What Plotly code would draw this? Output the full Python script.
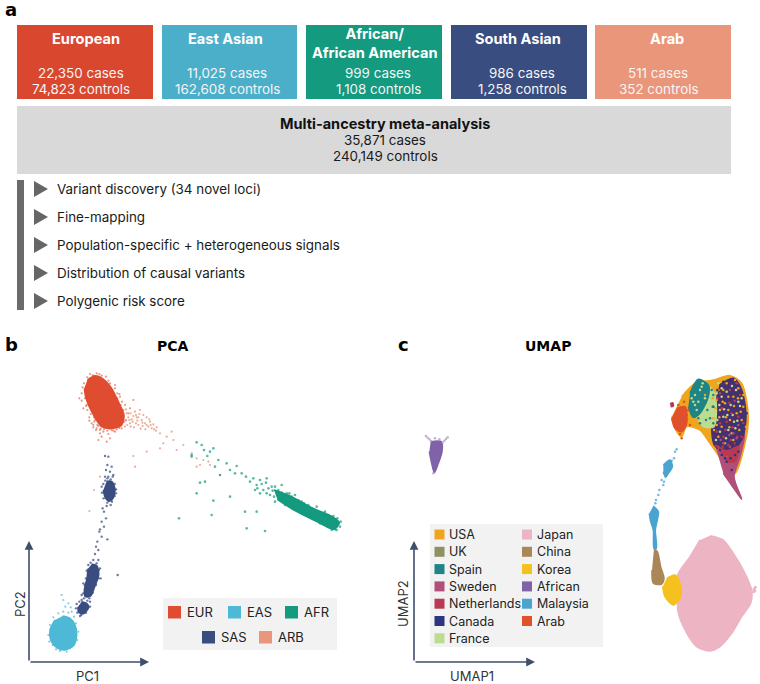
import plotly.graph_objects as go

W, H = 760, 684
FONT = "Inter"

# ---------- panel a content ----------
cohort_titles = ["European", "East Asian", "African/<br>African American", "South Asian", "Arab"]
cohort_cases = ["22,350 cases", "11,025 cases", "999 cases", "986 cases", "511 cases"]
cohort_controls = ["74,823 controls", "162,608 controls", "1,108 controls", "1,258 controls", "352 controls"]
cohort_colors = ["#d9472f", "#4bafca", "#149a7f", "#3a4d80", "#ea967b"]
box_left = [17, 162, 306, 451, 595]
box_right = [153, 297, 442, 587, 731]
title_cx = [86, 226, 375, 518, 667]
count_cx = [81, 227, 378, 522, 658]
steps = ["Variant discovery (34 novel loci)", "Fine-mapping",
         "Population-specific + heterogeneous signals",
         "Distribution of causal variants", "Polygenic risk score"]

# ---------- panel b (PCA), outlines and points ----------
EUR, EAS, AFR, SAS, ARB = "#e04c30", "#4db9d6", "#149a7f", "#3a4d80", "#ea967b"
eur_core = [(262,150),(285,137),(310,147),(335,175),(355,215),(372,255),(365,285),(340,295),(305,290),(275,245),(258,205),(253,175)]
eur_pts = [(245,212),(238,205),(250,235),(262,240),(268,262),(275,280),(290,295),(300,310),(310,305),(325,312),(335,300),(350,298),
           (295,330),(320,335),(280,285),(260,225),(245,190),(270,132),(290,130),(305,137),(325,152),(345,175),(360,200),(375,225),
           (385,250),(372,275),(365,295),(345,305),(255,180),(252,160),(400,210),(390,235),(268,150),(300,300),(285,270),(340,195),
           (352,190),(366,215),(378,270),(330,325),(305,320),(315,290),(282,262),(270,232),(292,285),(322,302),(358,192),(248,172),
           (258,228),(272,252),(283,275),(295,288),(312,298),(340,302),(358,294),(275,240),(264,215),(288,300),(302,296),(328,296),
           (280,292),(268,272),(255,205),(345,165),(330,160),(318,140),(298,132),(278,135),(262,142),(370,240),(362,225),(352,205)]
arb_pts = [(378,238),(385,262),(392,250),(398,275),(405,245),(410,262),(415,285),(420,240),(425,270),(430,255),(435,280),(440,262),
           (445,290),(450,275),(455,295),(460,283),(470,292),(390,280),(402,292),(382,285),(412,272),(422,296),(436,298),(448,268),
           (395,268),(408,255),(375,290),(418,252),(462,298),(428,288),(380,250),(388,270),(400,258),(415,262),(427,278),(440,285),
           (452,285),(392,290),(408,280),(378,272),
           (480,310),(500,320),(520,330),(480,355),(530,360),(550,345),(575,370),(590,385),(610,390),(625,395),(600,405),(630,405),
           (590,410),(400,378),(440,365),(405,410),(300,440),(282,480),(268,543),(660,435),(515,305),(490,340),(468,302)]
afr_core = [(822,480),(870,498),(940,535),(1000,562),(1018,578),(1002,598),(955,577),(885,542),(832,508)]
afr_pts = [(590,337),(605,345),(575,380),(612,360),(630,365),(640,355),(622,378),(655,390),(680,400),(710,408),(690,420),(725,430),
           (738,440),(705,430),(750,455),(770,465),(590,490),(600,458),(640,512),(635,555),(537,565),(740,595),(795,603),(735,545),
           (770,545),(660,435),(645,410),(615,455),(690,500),(575,375),(760,445),(780,450),(800,445),(815,470),(790,480),(845,465),
           (868,490),(890,515),(912,520),(930,555),(950,530),(975,545),(985,588),(1010,600),(985,570),(960,580),(900,545),(855,525),(825,515),
           (772,475),(785,462),(798,458),(805,475),(818,482),(825,470),(835,480),(845,488),(810,495),(822,500),(838,510),(850,515),
           (860,490),(875,500),(885,495),(895,510),(905,515),(915,530),(925,525),(935,535),(945,540),(955,548),(965,552),(975,560),
           (985,555),(1000,558),(1012,565),(1022,575),(1020,590),(1005,598),(995,600),(980,585),(970,572),(945,565),(925,558),(910,550),
           (890,538),(875,530),(860,520),(845,510),(800,490),(765,480),(780,490)]
sas_blob1 = [(320,454),(335,454),(345,478),(339,505),(328,514),(316,503),(310,480)]
sas_blob2 = [(275,703),(291,708),(296,735),(284,770),(272,798),(256,800),(253,780),(261,745),(264,716)]
sas_blob3 = [(245,815),(260,820),(266,832),(250,851),(236,847),(234,830)]
sas_pts = [(315,378),(325,380),(322,405),(318,420),(330,425),(340,435),(315,440),(305,470),(348,490),(320,528),(332,525),(312,545),
           (318,565),(305,575),(312,590),(298,605),(305,620),(292,635),(288,650),(295,660),(285,672),(280,690),(295,690),(300,715),
           (353,735),(245,795),(238,815),(270,815),(228,835),(240,858),(302,745),(250,760),(308,535),(325,440),(335,410),(300,598),(322,628),
           (316,452),(332,448),(344,462),(348,478),(344,498),(336,515),(322,518),(311,505),(306,488),(310,462),(322,445),(338,440),
           (272,698),(290,700),(297,720),(296,745),(288,765),(278,788),(268,805),(252,805),(250,790),(254,765),(258,745),(260,722),
           (265,705),(245,810),(262,812),(270,830),(258,848),(244,855),(232,848),(230,822)]
eas_core = [(188,858),(210,865),(225,885),(230,912),(222,945),(195,960),(170,953),(152,930),(150,900),(165,870)]
eas_pts = [(185,795),(190,810),(205,820),(212,832),(196,830),(215,845),(205,848),(190,845),(175,850),(145,915),(148,935),(235,905),(200,965),(180,963),
           (228,880),(232,930),(158,945),(150,885),(160,862),(222,860),(168,958),(210,955)]

# ---------- panel c (UMAP), outlines and points ----------
USA, UKC, SPA, SWE, NET, CAN, FRA = "#f0a51e", "#8f9160", "#1f8484", "#b04f78", "#b93a50", "#2d3580", "#bcdc90"
JAP, CHI, KOR, AFN, MAL, ARA = "#edb4c4", "#ab8758", "#f4c11f", "#7f62a8", "#4ba3d2", "#e0502c"
CAN_MIX = "#46306f"
japan_shape = [(990,617),(1030,630),(1060,670),(1090,720),(1115,780),(1112,820),(1085,860),(1055,910),(1020,950),(990,963),(950,950),(915,900),(893,840),(897,770),(893,735),(930,680),(960,630)]
china_shape = [(822,655),(832,665),(842,710),(852,745),(845,762),(820,760),(816,720)]
korea_shape = [(860,745),(885,735),(900,760),(902,800),(880,825),(855,800),(848,770)]
mal_low = [(820,528),(835,545),(832,570),(826,600),(829,655),(822,655),(820,600),(812,575),(808,550)]
mal_up = [(850,405),(870,390),(877,410),(865,430),(857,442),(850,425)]
mal_pts = [(885,365),(882,385),(875,392),(845,450),(850,465),(838,480),(835,495),(828,510),(826,520),(852,455),(890,358)]
african_shape = [(152,335),(184,335),(186,365),(175,400),(163,428),(155,400),(148,365)]
african_pts = [(138,318),(143,323),(148,328),(153,333),(203,322),(198,327),(193,332),(188,338),(165,325),(178,328),(160,430)]
usa_shape = [(905,200),(945,160),(1000,150),(1050,137),(1085,160),(1105,260),(1095,340),(1065,430),(1040,410),(990,340),(960,300),(920,290),(905,320),(885,295),(875,260)]
swe_shape = [(1005,345),(1045,330),(1092,310),(1080,380),(1062,440),(1085,508),(1065,480),(1030,430)]
can_shape = [(1018,165),(1060,145),(1085,180),(1098,260),(1085,330),(1045,370),(1003,345),(995,250)]
net_shape = [(1005,345),(1040,362),(1075,350),(1065,395),(1040,395)]
fra_shape = [(958,215),(988,170),(1006,200),(1002,290),(970,290),(950,260)]
spa_shape = [(930,190),(955,148),(985,165),(985,200),(960,250),(940,262),(925,230)]
arab_shape = [(890,235),(915,230),(920,280),(905,305),(885,295),(875,265)]
arab_dot = [(870,222),(878,218),(880,228),(872,230)]
usa_pts = [(1010,210),(1030,180),(1045,240),(1060,200),(1025,290),(1070,250),(1055,310),(1040,160),(1078,300),(1015,320),(1035,340),(1075,175),
           (1090,230),(1005,175),(1050,270),(1065,150),(1020,240),(1045,200),(1085,270),(1060,330),(1002,300),(1035,220),(930,265),(975,195),(950,285),
           (1015,180),(1028,215),(1038,262),(1062,228),(1074,205),(1048,292),(1018,262),(1006,235),(1082,245),(1000,265),(998,205),(1010,285),(1090,195),(1098,290)]
fra_pts = [(1018,225),(1030,260),(1040,185),(1052,225),(1062,275),(1012,270),(1045,300),(1075,215),(1025,200),(1068,180),(1008,330),(1038,325),(965,170),(945,225),(1085,205),
           (1020,305),(1042,255),(1066,295),(1010,190),(1056,168),(1032,238),(1080,228),(1072,272),(1004,255),(1015,160),(1058,255),(1025,175)]
net_pts = [(1030,320),(1055,250),(1020,280),(1072,320),(1045,345),(1085,320),(1060,360),(1015,350),(1040,275),(1012,205),(1075,260),(1050,180),
           (1026,235),(1064,212),(1036,300),(1080,195),(1020,190),(1058,292),(1010,305),(1048,218),(1065,340),(1028,350),(1090,280),(1070,160),(1035,365),(1052,330)]
can_pts = [(1040,395),(1065,375),(1025,375),(1075,365),(1055,420),(1088,285),(1050,150),(1035,385),(1052,385),(1070,340),(1020,360),(1090,305),(1012,180),(1030,155),(1000,230),(1100,250)]
spa_pts = [(975,220),(998,230),(955,265),(990,265),(1000,195),(970,180),(935,250),(982,240),(968,205),(995,180),(948,238),(1000,280),(960,280),(978,270)]
ara_pts = [(925,240),(930,285),(912,215),(895,225),(905,325),(900,312),(920,255),(908,300)]
fra_in_spa = [(945,195),(955,215),(940,215),(960,180),(950,240),(935,205),(968,160),(975,205)]
swe_pts = [(1015,360),(1040,380),(1070,325),(1050,350),(1085,345),(1030,340),(1060,310),(1075,285),(1048,315),(1022,330)]

def px(x):
    return x / W

def py(y):
    return 1 - y / H

def xs(p):
    return [a for a, _ in p]

def ys(p):
    return [b for _, b in p]

fig = go.Figure()

def blob(points, color, axes, opacity=1.0):
    xa, ya = axes
    fig.add_trace(go.Scatter(x=xs(points), y=ys(points), xaxis=xa, yaxis=ya, mode="lines", fill="toself",
                             fillcolor=color, opacity=opacity, line=dict(color=color, width=1.5, shape="spline", smoothing=0.8),
                             hoverinfo="skip", showlegend=False))

def dots(points, color, axes, size=2.2, opacity=0.75):
    xa, ya = axes
    fig.add_trace(go.Scatter(x=xs(points), y=ys(points), xaxis=xa, yaxis=ya, mode="markers",
                             marker=dict(color=color, size=size, opacity=opacity, line=dict(width=0)),
                             hoverinfo="skip", showlegend=False))

B = ("x", "y")
C = ("x2", "y2")

# PCA marks
dots(eur_pts, EUR, B, opacity=0.6)
dots(arb_pts, ARB, B, opacity=0.8)
blob(eur_core, EUR, B)
blob(afr_core, AFR, B)
dots(afr_pts, AFR, B, size=2.6, opacity=0.7)
blob(sas_blob1, SAS, B)
blob(sas_blob2, SAS, B)
blob(sas_blob3, SAS, B)
dots(sas_pts, SAS, B, size=2.4, opacity=0.75)
dots(eas_pts, EAS, B, opacity=0.7)
blob(eas_core, EAS, B)

# UMAP marks
blob(african_shape, AFN, C)
dots(african_pts, "#a897c4", C, size=2.5)
blob(japan_shape, JAP, C)
blob(china_shape, CHI, C)
blob(korea_shape, KOR, C)
blob(mal_low, MAL, C)
blob(mal_up, MAL, C)
dots(mal_pts, MAL, C, size=2.5)
dots([(1122,778),(1126,772),(1120,785),(1125,783)], JAP, C, size=3, opacity=1)
blob(usa_shape, USA, C)
blob(swe_shape, SWE, C)
blob(can_shape, CAN_MIX, C)
blob(net_shape, NET, C)
blob(fra_shape, FRA, C)
blob(spa_shape, SPA, C)
blob(arab_shape, ARA, C)
blob(arab_dot, NET, C)
dots(usa_pts, USA, C, size=2.5, opacity=1)
dots(fra_pts, FRA, C, size=2.5, opacity=1)
dots(net_pts, NET, C, size=2.5, opacity=1)
dots(swe_pts, SWE, C, size=2.5, opacity=1)
dots(can_pts, CAN, C, size=2.5, opacity=1)
dots(spa_pts, SPA, C, size=2.5, opacity=1)
dots(fra_in_spa, FRA, C, size=2.5, opacity=1)
dots(ara_pts, ARA, C, size=2.5, opacity=1)

shapes = []
ann = []

def rect(x0, y0, x1, y1, color):
    shapes.append(dict(type="rect", xref="paper", yref="paper", x0=px(x0), x1=px(x1), y0=py(y1), y1=py(y0),
                       fillcolor=color, line=dict(width=0), layer="below"))

def text(x, y, t, size=13, color="#1a1a1a", bold=False, anchor="center", angle=0, family=FONT):
    ann.append(dict(xref="paper", yref="paper", x=px(x), y=py(y), text=f"<b>{t}</b>" if bold else t, showarrow=False,
                    xanchor=anchor, yanchor="middle", textangle=angle, font=dict(family=family, size=size, color=color)))

# Panel a
for i in range(5):
    rect(box_left[i], 25, box_right[i], 99, cohort_colors[i])
    text(title_cx[i], 43.5 if i == 2 else 39, cohort_titles[i], size=14.6, color="#ffffff", bold=True)
    text(count_cx[i], 73, cohort_cases[i], size=13.4, color="#f5f5f5")
    text(count_cx[i], 89, cohort_controls[i], size=13.4, color="#f5f5f5")
rect(17, 106, 731, 174, "#d9d9d9")
text(385, 123, "Multi-ancestry meta-analysis", size=14.5, bold=True, color="#111111")
text(385, 140, "35,871 cases", size=13.4)
text(385, 156, "240,149 controls", size=13.4)
rect(17, 180, 24, 310, "#6b6b6b")
for i, s in enumerate(steps):
    yc = 189 + 28 * i
    shapes.append(dict(type="path", xref="paper", yref="paper",
                       path=f"M {px(34)} {py(yc-8)} L {px(48)} {py(yc)} L {px(34)} {py(yc+8)} Z",
                       fillcolor="#666666", line=dict(width=0)))
    text(55, yc, s, size=13.4, anchor="left")

text(3, 10, "a", size=18, bold=True, anchor="left", color="#000000", family="DejaVu Sans")
text(3, 344, "b", size=18, bold=True, anchor="left", color="#000000", family="DejaVu Sans")
text(396, 344, "c", size=18, bold=True, anchor="left", color="#000000", family="DejaVu Sans")
text(173, 346, "PCA", size=14, bold=True, color="#000000", family="DejaVu Sans")
text(548, 346, "UMAP", size=14, bold=True, color="#000000", family="DejaVu Sans")

# PCA legend
rect(163, 598, 337, 650, "#f2f2f2")
pca_legend = [("EUR", EUR, 168, 612), ("EAS", EAS, 228, 612), ("AFR", AFR, 285, 612), ("SAS", SAS, 202, 637), ("ARB", ARB, 259, 637)]
for name, col, x, y in pca_legend:
    rect(x, y - 6, x + 13, y + 6.5, col)
    text(x + 17, y, name, size=13, anchor="left", color="#222222")

# UMAP legend
rect(430, 524, 603, 647, "#f2f2f2")
umap_col1 = [("USA", USA), ("UK", UKC), ("Spain", SPA), ("Sweden", SWE), ("Netherlands", NET), ("Canada", CAN), ("France", FRA)]
umap_col2 = [("Japan", JAP), ("China", CHI), ("Korea", KOR), ("African", AFN), ("Malaysia", MAL), ("Arab", ARA)]
for col_items, x in ((umap_col1, 434.5), (umap_col2, 522)):
    for i, (name, col) in enumerate(col_items):
        y = 534.5 + 17.3 * i
        rect(x, y - 5, x + 10, y + 5, col)
        text(x + 12.5, y, name, size=12.5, anchor="left", color="#222222")

# Axis arrows
ARROW = "#3d4f6b"
for x0, x1, y_top in ((29, 149, 541), (414, 535, 541)):
    for tx, ty in ((x0, y_top), (x1, 662)):
        ann.append(dict(xref="paper", yref="paper", axref="pixel", ayref="pixel", x=px(tx), y=py(ty),
                        ax=x0 - tx, ay=662 - ty, text="", showarrow=True, arrowhead=2, arrowsize=1.1,
                        arrowwidth=1.6, arrowcolor=ARROW))
text(87, 676, "PC1", size=13, color="#333333")
text(20, 604, "PC2", size=13, color="#333333", angle=-90)
text(472, 676, "UMAP1", size=13, color="#333333")
text(403, 604, "UMAP2", size=13, color="#333333", angle=-90)

hidden = dict(visible=False, showgrid=False, zeroline=False, fixedrange=True)
panel_h = 354 / H
fig.update_layout(
    width=W, height=H, margin=dict(l=0, r=0, t=0, b=0), paper_bgcolor="#ffffff", plot_bgcolor="rgba(0,0,0,0)",
    showlegend=False, shapes=shapes, annotations=ann,
    xaxis=dict(domain=[0, 0.5], range=[0, 1140], **hidden),
    yaxis=dict(domain=[0, panel_h], range=[1062, 0], **hidden),
    xaxis2=dict(domain=[0.5, 1], range=[0, 1140], anchor="y2", **hidden),
    yaxis2=dict(domain=[0, panel_h], range=[1062, 0], anchor="x2", **hidden),
)
fig.write_html("out.html", config=dict(displayModeBar=False),
               post_script="document.body.style.margin='0';document.body.style.overflow='hidden';")
